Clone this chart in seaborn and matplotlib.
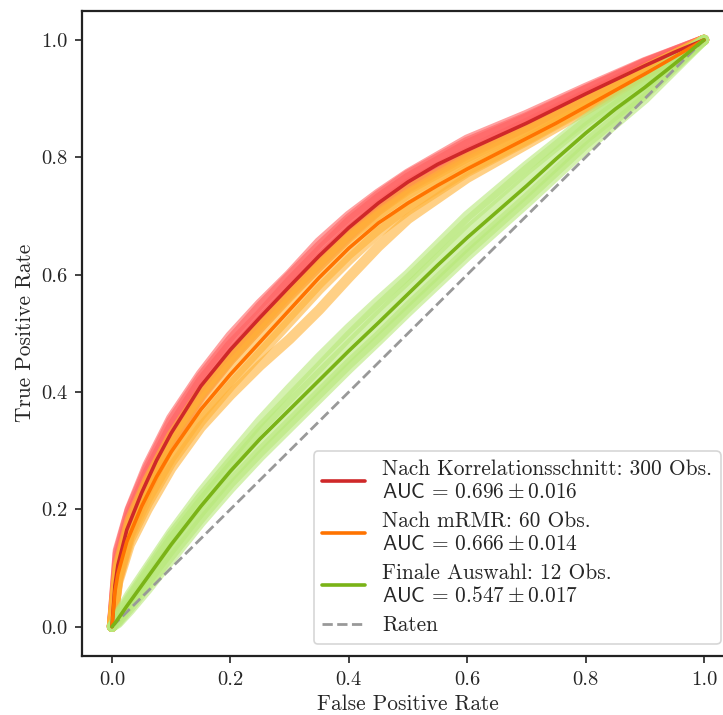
import numpy as np
import pandas as pd
import matplotlib
matplotlib.use("Agg")
import matplotlib.pyplot as plt
import seaborn as sns

# ---------------- data ----------------
MEAN_FPR = [0, 0.005, 0.01, 0.025, 0.05, 0.075, 0.1, 0.15, 0.2, 0.25, 0.3, 0.35, 0.4,
            0.45, 0.5, 0.55, 0.6, 0.65, 0.7, 0.75, 0.8, 0.85, 0.9, 0.95, 1.0]
RED_MEAN = [0, 0.07, 0.105, 0.165, 0.228, 0.283, 0.33, 0.41, 0.472, 0.527, 0.58, 0.632, 0.68,
            0.722, 0.758, 0.788, 0.812, 0.835, 0.858, 0.883, 0.908, 0.932, 0.956, 0.979, 1.0]
ORANGE_MEAN = [0, 0.06, 0.09, 0.145, 0.205, 0.255, 0.298, 0.37, 0.43, 0.485, 0.54, 0.595, 0.645,
               0.688, 0.722, 0.752, 0.78, 0.806, 0.832, 0.858, 0.886, 0.914, 0.942, 0.971, 1.0]
GREEN_MEAN = [0, 0.006, 0.013, 0.035, 0.07, 0.105, 0.14, 0.205, 0.265, 0.32, 0.37, 0.42, 0.47,
              0.518, 0.567, 0.616, 0.663, 0.707, 0.751, 0.797, 0.841, 0.882, 0.919, 0.959, 1.0]

FOLD_FPR = [0, 0.01, 0.03, 0.06, 0.1, 0.15, 0.2, 0.25, 0.3, 0.35, 0.4, 0.45, 0.5, 0.6, 0.7, 0.8, 0.9, 1.0]
RED_FOLDS = [
    [0, 0.13, 0.2, 0.275, 0.355, 0.43, 0.495, 0.55, 0.6, 0.655, 0.70, 0.738, 0.772, 0.83, 0.872, 0.918, 0.962, 1],
    [0, 0.09, 0.165, 0.235, 0.315, 0.395, 0.458, 0.515, 0.57, 0.62, 0.668, 0.713, 0.75, 0.808, 0.853, 0.905, 0.953, 1],
    [0, 0.115, 0.19, 0.262, 0.34, 0.418, 0.48, 0.532, 0.588, 0.64, 0.69, 0.73, 0.765, 0.822, 0.866, 0.914, 0.96, 1],
    [0, 0.1, 0.17, 0.245, 0.322, 0.40, 0.465, 0.522, 0.575, 0.628, 0.675, 0.717, 0.755, 0.81, 0.858, 0.907, 0.955, 1],
    [0, 0.08, 0.158, 0.232, 0.312, 0.392, 0.455, 0.51, 0.565, 0.615, 0.665, 0.71, 0.748, 0.805, 0.852, 0.904, 0.952, 1],
    [0, 0.125, 0.198, 0.27, 0.35, 0.425, 0.488, 0.545, 0.597, 0.648, 0.695, 0.735, 0.77, 0.826, 0.868, 0.915, 0.961, 1],
]
ORANGE_FOLDS = [
    [0, 0.1, 0.175, 0.245, 0.32, 0.395, 0.455, 0.51, 0.563, 0.615, 0.663, 0.703, 0.738, 0.797, 0.846, 0.897, 0.95, 1],
    [0, 0.075, 0.14, 0.2, 0.27, 0.34, 0.395, 0.445, 0.49, 0.54, 0.595, 0.648, 0.695, 0.765, 0.822, 0.88, 0.94, 1],
    [0, 0.095, 0.168, 0.235, 0.31, 0.382, 0.445, 0.5, 0.555, 0.61, 0.66, 0.7, 0.735, 0.792, 0.842, 0.894, 0.947, 1],
    [0, 0.085, 0.155, 0.218, 0.288, 0.36, 0.42, 0.475, 0.53, 0.585, 0.635, 0.678, 0.716, 0.778, 0.83, 0.886, 0.943, 1],
    [0, 0.105, 0.182, 0.25, 0.325, 0.4, 0.46, 0.515, 0.57, 0.622, 0.67, 0.71, 0.745, 0.8, 0.848, 0.898, 0.951, 1],
    [0, 0.08, 0.148, 0.21, 0.28, 0.35, 0.41, 0.465, 0.52, 0.575, 0.625, 0.672, 0.71, 0.775, 0.828, 0.884, 0.942, 1],
]
GREEN_FOLDS = [
    [0, 0.02, 0.055, 0.1, 0.16, 0.228, 0.29, 0.35, 0.405, 0.458, 0.508, 0.555, 0.6, 0.7, 0.785, 0.865, 0.935, 1],
    [0, 0.008, 0.032, 0.07, 0.122, 0.185, 0.245, 0.298, 0.348, 0.398, 0.448, 0.495, 0.545, 0.64, 0.73, 0.823, 0.907, 1],
    [0, 0.015, 0.047, 0.09, 0.148, 0.212, 0.272, 0.33, 0.38, 0.43, 0.48, 0.53, 0.578, 0.675, 0.762, 0.85, 0.925, 1],
    [0, 0.01, 0.038, 0.078, 0.132, 0.196, 0.256, 0.31, 0.36, 0.41, 0.46, 0.508, 0.555, 0.65, 0.74, 0.832, 0.912, 1],
    [0, 0.018, 0.05, 0.095, 0.155, 0.22, 0.28, 0.338, 0.39, 0.442, 0.495, 0.545, 0.592, 0.69, 0.778, 0.86, 0.93, 1],
    [0, 0.006, 0.028, 0.064, 0.115, 0.178, 0.236, 0.29, 0.34, 0.39, 0.44, 0.488, 0.537, 0.632, 0.722, 0.815, 0.9, 1],
]

LABELS = [
    "Nach Korrelationsschnitt: 300 Obs.\n" + r"$\mathsf{AUC}\,=\,0.696 \pm 0.016$",
    "Nach mRMR: 60 Obs.\n" + r"$\mathsf{AUC}\,=\,0.666 \pm 0.014$",
    "Finale Auswahl: 12 Obs.\n" + r"$\mathsf{AUC}\,=\,0.547 \pm 0.017$",
]
CHANCE_LABEL = "Raten"
TICKS = [0.0, 0.2, 0.4, 0.6, 0.8, 1.0]
TICK_LABELS = ["0.0", "0.2", "0.4", "0.6", "0.8", "1.0"]

# ---------------- style ----------------
MEAN_COLORS = ["#cf2829", "#ff7300", "#7ab317"]
FOLD_COLORS = ["#ff6262", "#ffb236", "#b8e87a"]

sns.set_theme(style="ticks")
plt.rcParams["font.family"] = ["cmr10", "DejaVu Serif"]
plt.rcParams["mathtext.fontset"] = "cm"
plt.rcParams["axes.formatter.use_mathtext"] = True
plt.rcParams["axes.unicode_minus"] = False
FS = 15.4

fig = plt.figure(figsize=(7.23, 7.15), dpi=100)
ax = fig.add_axes([82.4 / 723, 59 / 715, 651.2 / 723, 645.4 / 715])

# fold curves
for folds, col in zip([RED_FOLDS, ORANGE_FOLDS, GREEN_FOLDS], FOLD_COLORS):
    rows = []
    for k, f in enumerate(folds):
        for x, y in zip(FOLD_FPR, f):
            rows.append({"fpr": x, "tpr": y, "fold": k})
    df = pd.DataFrame(rows)
    sns.lineplot(data=df, x="fpr", y="tpr", units="fold", estimator=None, sort=False,
                 color=col, alpha=0.6, lw=7.5, ax=ax, legend=False,
                 solid_capstyle="round", solid_joinstyle="round", zorder=1)

# mean curves
for mean, col, lab in zip([RED_MEAN, ORANGE_MEAN, GREEN_MEAN], MEAN_COLORS, LABELS):
    dfm = pd.DataFrame({"fpr": MEAN_FPR, "tpr": mean})
    sns.lineplot(data=dfm, x="fpr", y="tpr", sort=False, color=col, lw=2.6,
                 ax=ax, label=lab, zorder=3)

# chance diagonal
dfc = pd.DataFrame({"fpr": [0, 1], "tpr": [0, 1]})
sns.lineplot(data=dfc, x="fpr", y="tpr", color="#999999", lw=2, linestyle="--",
             ax=ax, label=CHANCE_LABEL, zorder=2)

ax.set_xlim(-0.05, 1.05)
ax.set_ylim(-0.05, 1.05)
ax.set_xticks(TICKS)
ax.set_xticklabels(TICK_LABELS)
ax.set_yticks(TICKS)
ax.set_yticklabels(TICK_LABELS)
ax.tick_params(axis="both", labelsize=FS - 0.6, length=5, width=1.2, color="#222222", pad=6)
for s in ax.spines.values():
    s.set_linewidth(1.6)
    s.set_color("#222222")
ax.set_xlabel("False Positive Rate", fontsize=FS, labelpad=4)
ax.set_ylabel("True Positive Rate", fontsize=FS, labelpad=4)

leg = ax.legend(loc="lower right", bbox_to_anchor=(0.980, 0.0186), borderaxespad=0,
                fontsize=FS, frameon=True, fancybox=True, framealpha=0.8,
                edgecolor="#cccccc", handlelength=2.0, labelspacing=0.45)
leg.get_frame().set_linewidth(1.2)

fig.savefig("out.png", dpi=100)
